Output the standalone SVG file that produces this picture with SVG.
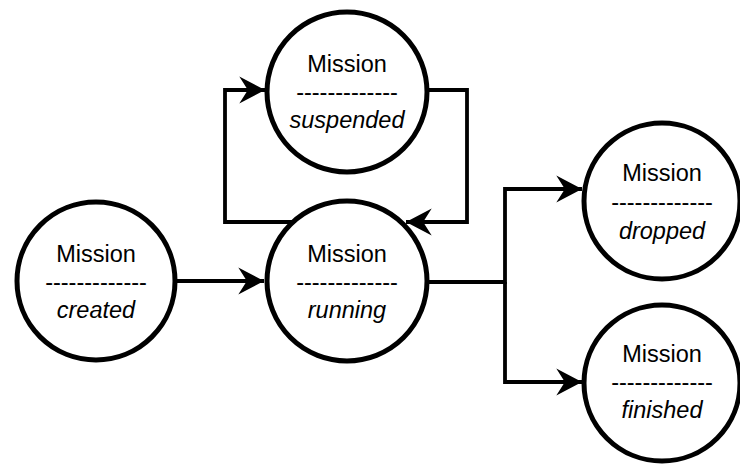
<svg xmlns="http://www.w3.org/2000/svg" width="740" height="464" viewBox="0 0 740 464">
  <defs>
    <style>
      .state circle { fill: #ffffff; stroke: #000000; stroke-width: 5; }
      .state text { font-family: "Liberation Sans", Arial, sans-serif; font-size: 23.5px; fill: #000000; text-anchor: middle; }
      .state .status { font-style: italic; }
      .edge { fill: none; stroke: #000000; stroke-width: 3.8; stroke-linejoin: miter; }
    </style>
    <marker id="arrow" markerUnits="userSpaceOnUse" markerWidth="30" markerHeight="30" viewBox="-26 -14 28 28" refX="0" refY="0" orient="auto">
      <path d="M0,0 L-24,-12.5 L-16,0 L-24,12.5 Z" fill="#000000"/>
    </marker>
  </defs>

  <rect width="740" height="464" fill="#ffffff"/>

  <!-- transitions -->
  <g id="connectors">
    <path class="edge" d="M177,281 L264,281" marker-end="url(#arrow)"/>
    <path class="edge" d="M292,222 L225,222 L225,90 L265,90" marker-end="url(#arrow)"/>
    <path class="edge" d="M429,90 L467,90 L467,222 L406,222" marker-end="url(#arrow)"/>
    <path class="edge" d="M429,282 L505,282 L505,189 L582,189" marker-end="url(#arrow)"/>
    <path class="edge" d="M505,282 L505,382 L582,382" marker-end="url(#arrow)"/>
  </g>

  <!-- states -->
  <g id="created" class="state">
    <circle cx="96" cy="281" r="79"/>
    <text x="96" y="262">Mission</text>
    <text x="96" y="290">-------------</text>
    <text x="96" y="318" class="status">created</text>
  </g>

  <g id="running" class="state">
    <circle cx="347" cy="281" r="80"/>
    <text x="347" y="262">Mission</text>
    <text x="347" y="290">-------------</text>
    <text x="347" y="318" class="status">running</text>
  </g>

  <g id="suspended" class="state">
    <circle cx="347" cy="92" r="80"/>
    <text x="347" y="72">Mission</text>
    <text x="347" y="100">-------------</text>
    <text x="347" y="128" class="status">suspended</text>
  </g>

  <g id="dropped" class="state">
    <circle cx="662" cy="201" r="78"/>
    <text x="662" y="181">Mission</text>
    <text x="662" y="210">-------------</text>
    <text x="662" y="239" class="status">dropped</text>
  </g>

  <g id="finished" class="state">
    <circle cx="662" cy="383" r="78"/>
    <text x="662" y="362">Mission</text>
    <text x="662" y="390">-------------</text>
    <text x="662" y="418" class="status">finished</text>
  </g>
</svg>
